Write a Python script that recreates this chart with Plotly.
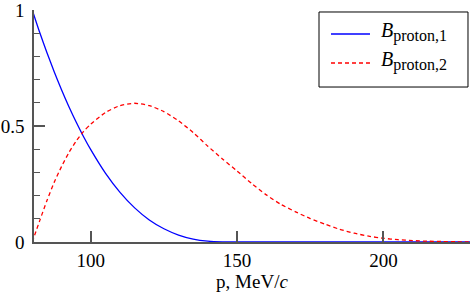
import plotly.graph_objects as go

# momentum values (MeV/c)
p_blue = [80, 82.5, 85, 87.5, 90, 92.5, 95, 97.5, 100, 105, 110, 115, 120, 125, 130, 135, 140, 145, 148, 150, 175, 200, 230]
b_proton_1 = [1.0, 0.905, 0.817, 0.734, 0.656, 0.584, 0.517, 0.455, 0.398, 0.297, 0.214, 0.147, 0.095, 0.057, 0.030, 0.0125, 0.0035, 0.0003, 0.0, 0.0, 0.0, 0.0, 0.0]

p_red = [80, 82.5, 85, 87.5, 90, 92.5, 95, 97.5, 100, 105, 110, 115, 120, 125, 130, 135, 140, 145, 150, 155, 160, 165, 170, 175, 180, 185, 190, 195, 200, 205, 210, 215, 220, 225, 230]
b_proton_2 = [0.0, 0.09, 0.178, 0.257, 0.325, 0.385, 0.435, 0.476, 0.508, 0.558, 0.588, 0.598, 0.588, 0.562, 0.522, 0.472, 0.413, 0.358, 0.306, 0.252, 0.203, 0.162, 0.130, 0.101, 0.077, 0.055, 0.038, 0.025, 0.016, 0.010, 0.006, 0.0035, 0.002, 0.001, 0.0]

series_names = ["<i>B</i><sub><span style='font-size:16px'>proton,1</span></sub>",
                "<i>B</i><sub><span style='font-size:16px'>proton,2</span></sub>"]
x_ticks = [100, 150, 200]
y_ticks = [0, 0.5, 1]
y_tick_text = ["0", "0.5", "1"]

FONT = "Liberation Serif"
AX = "#555555"
colors = ["#0000ff", "#ff0000"]
dashes = ["solid", "4px,3px"]

fig = go.Figure()
fig.add_trace(go.Scatter(x=p_blue, y=b_proton_1, mode="lines", name=series_names[0], showlegend=False,
                         line=dict(color=colors[0], width=1.3, shape="spline", smoothing=0.6)))
fig.add_trace(go.Scatter(x=p_red, y=b_proton_2, mode="lines", name=series_names[1], showlegend=False,
                         line=dict(color=colors[1], width=1.3, dash=dashes[1], shape="spline", smoothing=0.6)))

# hand-drawn legend box (paper coordinates)
fig.add_shape(type="rect", xref="paper", yref="paper", x0=0.6537, x1=0.9954, y0=0.668, y1=0.9914,
              line=dict(color="black", width=1), fillcolor="white", layer="above")
row_y = [0.8966, 0.7716]
for i in range(2):
    fig.add_shape(type="line", xref="paper", yref="paper", x0=0.6812, x1=0.7706, y0=row_y[i], y1=row_y[i],
                  line=dict(color=colors[i], width=1.3, dash=dashes[i]), layer="above")
    fig.add_annotation(xref="paper", yref="paper", x=0.792, y=row_y[i] + 0.008, xanchor="left", yanchor="middle",
                       text=series_names[i], showarrow=False, font=dict(family=FONT, size=20, color="black"))

fig.update_layout(
    width=470, height=295,
    margin=dict(l=34, r=0, t=10, b=53, autoexpand=False),
    plot_bgcolor="white", paper_bgcolor="white",
    font=dict(family=FONT, size=19, color="black"),
    showlegend=False,
    xaxis=dict(range=[80.6, 229.6], showgrid=False, zeroline=False, automargin=False,
               showline=True, linecolor=AX, linewidth=1.5,
               ticks="inside", ticklen=11, tickcolor=AX, tickwidth=1.5,
               tickvals=x_ticks, ticklabelstandoff=0, ticklabeloverflow="allow",
               title=dict(text="p, MeV/<i>c</i>", standoff=1,
                          font=dict(family=FONT, size=19))),
    yaxis=dict(range=[0, 1], showgrid=False, zeroline=False, automargin=False,
               showline=True, linecolor=AX, linewidth=1.5,
               ticks="inside", ticklen=11, tickcolor=AX, tickwidth=1.5,
               tickvals=y_ticks, ticktext=y_tick_text, ticklabelstandoff=4, ticklabeloverflow="allow",
               minor=dict(dtick=0.1, ticks="inside", ticklen=6, tickcolor=AX, tickwidth=1.2)),
)

fig.write_html("out.html", config={"displayModeBar": False},
               post_script="document.body.style.margin='0';")
